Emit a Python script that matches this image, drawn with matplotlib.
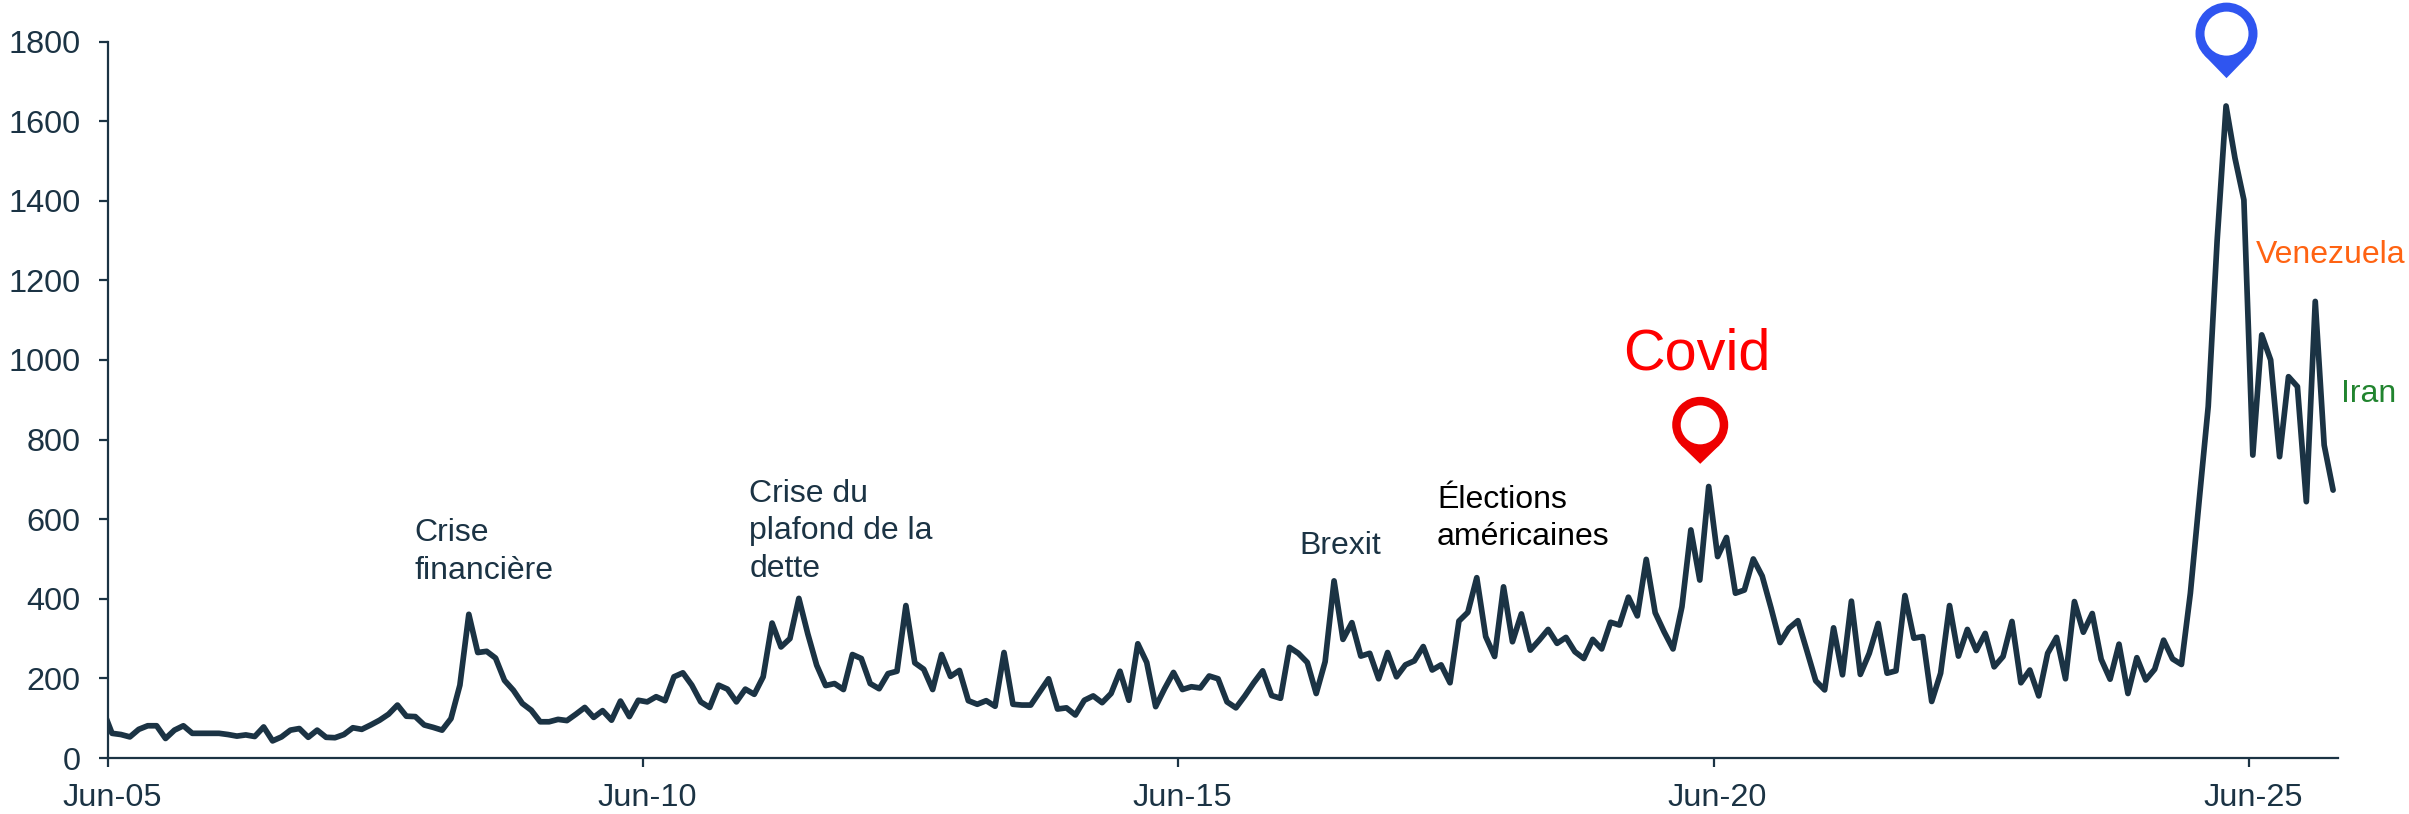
# -*- coding: utf-8 -*-
"""
Index chart, monthly values from Jun-05, with event labels and two pins
"""
import numpy as np
import matplotlib
matplotlib.use('Agg')
import matplotlib.pyplot as plt
from matplotlib.patches import Circle, Polygon
from matplotlib.transforms import IdentityTransform, ScaledTranslation

# monthly values
values_2005 = [120, 62, 59, 53, 72, 81, 81, 49, 70, 81, 62, 62, 62, 62, 59, 55,
               58, 54, 78, 43, 53, 70, 74, 52, 70, 52, 51, 59, 76, 72, 83, 95,
               110, 133, 105, 104, 83, 77, 70, 99, 183, 361, 265, 268, 251, 195,
               170, 137, 120, 91, 91, 97, 94, 110, 127, 102, 119, 95, 143, 104,
               145]
values_2010 = [141, 154, 144, 204, 214, 183, 141, 127, 183, 173, 141, 173, 160,
               204, 339, 279, 300, 401, 312, 233, 182, 187, 172, 260, 250, 187,
               174, 212, 218, 383, 239, 223, 172, 260, 205, 220, 144, 135, 144,
               130, 265, 135, 133, 133, 166, 199, 123, 126, 108, 145, 156, 139,
               162, 218, 145, 287, 240, 129, 174, 215]
values_2015 = [172, 179, 176, 206, 199, 141, 126, 156, 189, 219, 157, 150, 278,
               263, 240, 162, 242, 445, 298, 340, 256, 263, 199, 265, 204, 234,
               244, 280, 221, 234, 189, 344, 366, 453, 305, 255, 430, 292, 362,
               271, 296, 323, 288, 303, 267, 250, 298, 274, 341, 334, 404, 357,
               499, 365, 317, 274, 380, 573, 447, 682]
values_2020 = [506, 554, 414, 422, 500, 457, 376, 290, 326, 345, 270, 194, 171,
               327, 209, 394, 210, 263, 338, 213, 219, 408, 301, 305, 142, 213,
               383, 256, 323, 270, 313, 229, 255, 343, 189, 221, 156, 263, 303,
               199, 393, 316, 363, 248, 198, 286, 162, 252, 196, 223, 296, 249,
               235, 414, 650, 883, 1300, 1638, 1507, 1402]
values_2025 = [761, 1063, 1000, 757, 958, 933, 644, 1147, 786, 673]

x_ticks = [0, 60, 120, 180, 240]
x_labels = ['Jun-05', 'Jun-10', 'Jun-15', 'Jun-20', 'Jun-25']
y_ticks = [0, 200, 400, 600, 800, 1000, 1200, 1400, 1600, 1800]

# text, month, level of the last line, colour, size
events = [('Crise\nfinancière', 34.4, 450, '#1b3344', 23),
          ('Crise du\nplafond de la\ndette', 71.9, 455, '#1b3344', 23),
          ('Brexit', 133.6, 513, '#1b3344', 23),
          ('Élections\naméricaines', 149.0, 534, '#000000', 23),
          ('Covid', 169.9, 977, '#ff0000', 41.5),
          ('Venezuela', 240.8, 1244, '#ff6312', 23),
          ('Iran', 250.3, 895, '#21842f', 23)]

# month, level, colour, radius out, radius in, height
pins = [(178.5, 739, '#ee0000', 28, 19.5, 39),
        (237.5, 1708, '#2f55f0', 31, 22, 44.5)]

DARK = '#1b3344'


def draw_pin(ax, month, level, color, r_out, r_in, height):
    """pin with the tip on the data point, sizes in pixels"""
    tip = ax.transData.transform((month, level))
    center = tip + np.array([0, height])
    ang = np.arccos(r_out / height)
    dx, dy = r_out * np.sin(ang), r_out * np.cos(ang)
    kw = dict(transform=IdentityTransform(), clip_on=False, lw=0, zorder=5)
    ax.add_patch(Polygon([tip, center + [-dx, -dy], center + [dx, -dy]],
                         closed=True, fc=color, **kw))
    ax.add_patch(Circle(center, r_out, fc=color, **kw))
    ax.add_patch(Circle(center, r_in, fc='white', **kw))


plt.rcParams['font.family'] = ['Liberation Sans', 'DejaVu Sans']

fig = plt.figure(figsize=(24.09, 8.14), dpi=100)
ax = fig.add_axes([108 / 2409, 1 - 758 / 814, 2230 / 2409, 716.5 / 814])

values = np.array(values_2005 + values_2010 + values_2015 + values_2020
                  + values_2025, dtype=float)
months = np.arange(len(values)) - 0.55

ax.plot(months, values, color=DARK, lw=4.1, solid_capstyle='round',
        solid_joinstyle='round')

ax.set_xlim(0, 250)
ax.set_ylim(0, 1800)
ax.set_xticks(x_ticks)
ax.set_xticklabels(x_labels)
ax.set_yticks(y_ticks)

for side in ('top', 'right'):
    ax.spines[side].set_visible(False)
for side in ('left', 'bottom'):
    ax.spines[side].set_color(DARK)
    ax.spines[side].set_linewidth(1.6)
ax.tick_params(axis='both', colors=DARK, labelsize=23.4, length=6.8, width=1.6)
ax.tick_params(axis='x', pad=11)
ax.tick_params(axis='y', pad=13)

shift = ScaledTranslation(4 / 100, 0, fig.dpi_scale_trans)
for label in ax.get_xticklabels():
    label.set_transform(label.get_transform() + shift)

for text, month, level, color, size in events:
    ax.text(month, level, text, color=color, fontsize=size, ha='left',
            va='baseline', linespacing=1.33, clip_on=False)

for pin in pins:
    draw_pin(ax, *pin)

fig.savefig('out.png', dpi=100)
plt.close('all')
